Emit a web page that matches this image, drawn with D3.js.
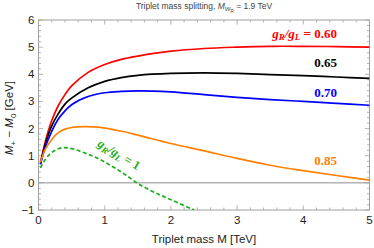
<!DOCTYPE html>
<html>
<head>
<style>
  body { margin: 0; background: #fff; }
</style>
</head>
<body>
<div id="chart"></div>
<script src="https://d3js.org/d3.v7.min.js"></script>
<script>
  const width = 374
  const height = 248
  const margin = { left: 38.5, right: 4.5, top: 20, bottom: 38 }
  const sans = "'Liberation Sans', Arial, sans-serif"
  const serif = "'Liberation Serif', 'Times New Roman', serif"

  // x = triplet mass [TeV], y = M+ - M0 [GeV]
  const xTicks = [0, 1, 2, 3, 4, 5]
  const yTicks = [-1, 0, 1, 2, 3, 4, 5, 6]

  const mass060 = [0.03, 0.1, 0.2, 0.3, 0.4, 0.5, 0.75, 1, 1.25, 1.5, 2, 2.5, 3, 3.5, 4, 4.5, 5]
  const split060 = [0.72, 1.5, 2.3, 2.85, 3.25, 3.57, 4.07, 4.36, 4.55, 4.67, 4.85, 4.95, 5.0, 5.03, 5.03, 5.02, 5.0]

  const mass065 = [0.03, 0.1, 0.2, 0.3, 0.4, 0.5, 0.75, 1, 1.25, 1.5, 2, 2.5, 3, 3.5, 4, 4.5, 5]
  const split065 = [0.7, 1.4, 2.1, 2.55, 2.9, 3.12, 3.5, 3.74, 3.88, 3.96, 4.03, 4.05, 4.03, 3.99, 3.95, 3.9, 3.85]

  const mass070 = [0.03, 0.1, 0.2, 0.3, 0.4, 0.5, 0.75, 1, 1.25, 1.5, 2, 2.5, 3, 3.5, 4, 4.5, 5]
  const split070 = [0.68, 1.3, 1.9, 2.35, 2.65, 2.88, 3.18, 3.32, 3.37, 3.39, 3.35, 3.25, 3.15, 3.07, 3.0, 2.93, 2.86]

  const mass085 = [0.03, 0.1, 0.2, 0.3, 0.4, 0.5, 0.7, 0.9, 1.25, 1.5, 2, 2.5, 3, 3.5, 4, 4.5, 5]
  const split085 = [0.75, 1.22, 1.6, 1.85, 1.98, 2.04, 2.07, 2.05, 1.9, 1.76, 1.45, 1.18, 0.9, 0.65, 0.45, 0.27, 0.1]

  const mass100 = [0.03, 0.1, 0.2, 0.35, 0.5, 0.7, 0.9, 1.1, 1.3, 1.5, 1.75, 2, 2.35]
  const split100 = [0.55, 0.85, 1.12, 1.29, 1.26, 1.1, 0.9, 0.63, 0.32, -0.02, -0.35, -0.62, -1.0]

  const series = [
    { mass: mass060, split: split060, color: "#ff0000", dash: null },
    { mass: mass065, split: split065, color: "#000000", dash: null },
    { mass: mass070, split: split070, color: "#0000ff", dash: null },
    { mass: mass085, split: split085, color: "#ff8000", dash: null },
    { mass: mass100, split: split100, color: "#1aac1a", dash: "4,2.5" }
  ]

  const xScale = d3.scaleLinear().domain([0, 5]).range([margin.left, width - margin.right])
  const yScale = d3.scaleLinear().domain([-1, 6]).range([height - margin.bottom, margin.top])

  const svg = d3.select("#chart").append("svg")
    .attr("width", width).attr("height", height)
    .style("font-family", sans)

  const x0 = xScale(0), x1 = xScale(5), y0 = yScale(-1), y1 = yScale(6)
  const frameColor = "#a0a0a0"

  svg.append("defs").append("clipPath").attr("id", "clip")
    .append("rect").attr("x", x0).attr("y", y1).attr("width", x1 - x0).attr("height", y0 - y1)

  // zero line
  svg.append("line")
    .attr("x1", x0).attr("x2", x1)
    .attr("y1", yScale(0)).attr("y2", yScale(0))
    .attr("stroke", "#8c8c8c").attr("stroke-width", 1)

  // frame ticks (inward, all four sides)
  const ticks = svg.append("g").attr("stroke", frameColor).attr("stroke-width", 0.8)
  d3.range(0, 5.001, 0.2).forEach(v => {
    const major = Math.abs(v - Math.round(v)) < 1e-6
    const len = major ? 4.5 : 2.5
    const px = xScale(v)
    ticks.append("line").attr("x1", px).attr("x2", px).attr("y1", y0).attr("y2", y0 - len)
    ticks.append("line").attr("x1", px).attr("x2", px).attr("y1", y1).attr("y2", y1 + len)
  })
  d3.range(-1, 6.001, 0.2).forEach(v => {
    const major = Math.abs(v - Math.round(v)) < 1e-6
    const len = major ? 4.5 : 2.5
    const py = yScale(v)
    ticks.append("line").attr("x1", x0).attr("x2", x0 + len).attr("y1", py).attr("y2", py)
    ticks.append("line").attr("x1", x1).attr("x2", x1 - len).attr("y1", py).attr("y2", py)
  })

  svg.append("rect")
    .attr("x", x0).attr("y", y1).attr("width", x1 - x0).attr("height", y0 - y1)
    .attr("fill", "none").attr("stroke", frameColor).attr("stroke-width", 1)

  // tick labels
  svg.append("g").selectAll("text").data(xTicks).enter().append("text")
    .attr("x", d => xScale(d)).attr("y", y0 + 14)
    .attr("text-anchor", "middle").attr("font-size", 11.5).attr("fill", "#222")
    .text(d => d)
  svg.append("g").selectAll("text").data(yTicks).enter().append("text")
    .attr("x", x0 - 4).attr("y", d => yScale(d) + 4)
    .attr("text-anchor", "end").attr("font-size", 11.5).attr("fill", "#222")
    .text(d => d < 0 ? "\u2212" + Math.abs(d) : d)

  // curves
  const line = d3.line()
    .x(d => xScale(d[0]))
    .y(d => yScale(d[1]))
    .curve(d3.curveCatmullRom.alpha(0.5))

  svg.append("g").attr("clip-path", "url(#clip)")
    .selectAll("path").data(series).enter().append("path")
    .attr("d", s => line(s.mass.map((m, i) => [m, s.split[i]])))
    .attr("fill", "none")
    .attr("stroke", s => s.color)
    .attr("stroke-width", 1.7)
    .attr("stroke-dasharray", s => s.dash)

  // curve labels
  const addRatio = (t, value) => {
    t.append("tspan").attr("font-style", "italic").text("g")
    t.append("tspan").attr("font-style", "italic").attr("font-size", 9).attr("dy", 2.5).text("R")
    t.append("tspan").attr("dy", -2.5).attr("font-style", "italic").text("/g")
    t.append("tspan").attr("font-style", "italic").attr("font-size", 9).attr("dy", 2.5).text("L")
    t.append("tspan").attr("dy", -2.5).text(" = " + value)
  }

  const lab060 = svg.append("text")
    .attr("x", 337).attr("y", 37.5).attr("text-anchor", "end")
    .style("font-family", serif).attr("font-weight", "bold").attr("font-size", 13)
    .attr("fill", "#ff0000")
  addRatio(lab060, "0.60")

  const plainLabels = [
    { text: "0.65", y: 66.5, color: "#000000" },
    { text: "0.70", y: 96.5, color: "#0000ff" },
    { text: "0.85", y: 165, color: "#ff8000" }
  ]
  svg.append("g").selectAll("text").data(plainLabels).enter().append("text")
    .attr("x", 337).attr("y", d => d.y).attr("text-anchor", "end")
    .style("font-family", serif).attr("font-weight", "bold").attr("font-size", 13)
    .attr("fill", d => d.color)
    .text(d => d.text)

  const lab100 = svg.append("text")
    .attr("transform", "translate(117,158) rotate(31)")
    .attr("text-anchor", "middle")
    .style("font-family", serif).attr("font-weight", "bold").attr("font-size", 12.5)
    .attr("fill", "#1aac1a")
  addRatio(lab100, "1")

  // title
  const title = svg.append("text")
    .attr("x", 204).attr("y", 9).attr("text-anchor", "middle")
    .attr("font-size", 8.5).attr("fill", "#444")
  title.append("tspan").text("Triplet mass splitting, ")
  title.append("tspan").attr("font-style", "italic").text("M")
  title.append("tspan").attr("font-style", "italic").attr("font-size", 6).attr("dy", 2).text("W")
  title.append("tspan").attr("font-size", 4.5).attr("dy", 1.5).text("R")
  title.append("tspan").attr("dy", -3.5).text(" = 1.9 TeV")

  // axis titles
  svg.append("text")
    .attr("x", 204).attr("y", 243).attr("text-anchor", "middle")
    .attr("font-size", 11.5).attr("fill", "#222")
    .text("Triplet mass M [TeV]")

  const yTitle = svg.append("text")
    .attr("transform", "translate(13,118) rotate(-90)")
    .attr("text-anchor", "middle")
    .attr("font-size", 11.5).attr("fill", "#222")
  yTitle.append("tspan").attr("font-style", "italic").text("M")
  yTitle.append("tspan").attr("font-size", 8).attr("dy", 3).text("+")
  yTitle.append("tspan").attr("dy", -3).text(" \u2212 ")
  yTitle.append("tspan").attr("font-style", "italic").text("M")
  yTitle.append("tspan").attr("font-size", 8).attr("dy", 3).text("0")
  yTitle.append("tspan").attr("dy", -3).text(" [GeV]")
</script>
</body>
</html>
